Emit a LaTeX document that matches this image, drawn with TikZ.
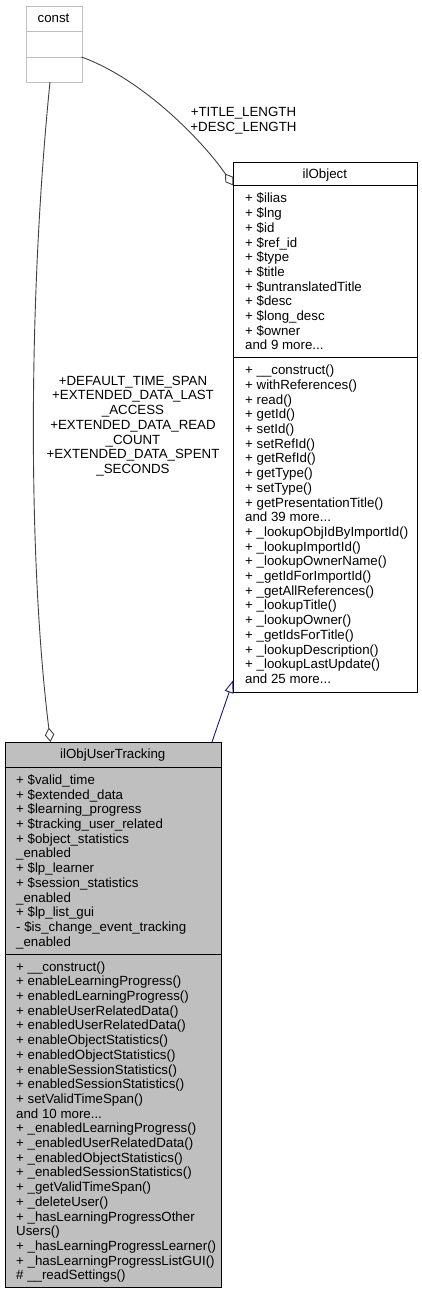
\documentclass[tikz,border=0pt]{standalone}
\usepackage{fontspec}
\setmainfont{Liberation Sans}
\usetikzlibrary{arrows.meta}
\definecolor{grayfill}{HTML}{BFBFBF}
\definecolor{edgegray}{HTML}{404040}
\definecolor{navyedge}{HTML}{191970}
\newcommand\threedotsx{...}
\begin{document}
\begin{tikzpicture}[x=1pt,y=-1pt,
  every node/.style={font=\fontsize{13.3}{14.7}\selectfont, inner sep=0pt, text=black},
  lbl/.style={anchor=base west},
  ttl/.style={anchor=base},
  classbox/.style={draw=black, line width=1pt, anchor=north west, minimum width=#1},
  sepline/.style={draw=black, line width=1pt},
  elabel/.style={align=center},
  usageedge/.style={draw=edgegray, line width=0.9pt, -{Diamond[open, length=14.5pt, width=9.5pt]}},
  inheritedge/.style={draw=navyedge, line width=0.9pt, -{Triangle[open, length=13pt, width=9pt]}}
]
\useasboundingbox (0,0) rectangle (422,1293);

% ---------- const ----------
\node[classbox=56pt, draw=grayfill, minimum height=76.5pt] (const) at (25.5,5.5) {};
\draw[draw=grayfill, line width=1pt] (25.5,31.5) -- (81.5,31.5);
\draw[draw=grayfill, line width=1pt] (25.5,57) -- (81.5,57);
\node[ttl] (consttitle) at (53.5,22) {const};

% ---------- ilObject ----------
\node[classbox=183.2pt, fill=white, minimum height=530pt] (ilobject) at (233.3,161.5) {};
\draw[sepline] (233.3,185.8) -- (416.5,185.8);
\draw[sepline] (233.3,357.6) -- (416.5,357.6);
\node[ttl] (ilobjecttitle) at (324.9,178) {ilObject};
\foreach \t [count=\i from 0] in {+ \$ilias, + \$lng, + \$id, + \$ref\_id, + \$type, + \$title, + \$untranslatedTitle, + \$desc, + \$long\_desc, + \$owner, and 9 more\threedotsx}
  \node[lbl] (oa\i) at (245,{202.9+\i*14.7}) {\t};
\foreach \t [count=\i from 0] in {+ \_\_construct(), + withReferences(), + read(), + getId(), + setId(), + setRefId(), + getRefId(), + getType(), + setType(), + getPresentationTitle(), and 39 more\threedotsx, + \_lookupObjIdByImportId(), + \_lookupImportId(), + \_lookupOwnerName(), + \_getIdForImportId(), + \_getAllReferences(), + \_lookupTitle(), + \_lookupOwner(), + \_getIdsForTitle(), + \_lookupDescription(), + \_lookupLastUpdate(), and 25 more\threedotsx}
  \node[lbl] (om\i) at (245,{374.7+\i*14.7}) {\t};

% ---------- ilObjUserTracking ----------
\node[classbox=216.5pt, fill=grayfill, minimum height=545pt] (tracking) at (4.5,742) {};
\draw[sepline] (4.5,767.3) -- (221,767.3);
\draw[sepline] (4.5,954) -- (221,954);
\node[ttl] (trackingtitle) at (112.8,758.5) {ilObjUserTracking};
\foreach \t [count=\i from 0] in {+ \$valid\_time, + \$extended\_data, + \$learning\_progress, + \$tracking\_user\_related, + \$object\_statistics, \_enabled, + \$lp\_learner, + \$session\_statistics, \_enabled, + \$lp\_list\_gui, - \$is\_change\_event\_tracking, \_enabled}
  \node[lbl] (ta\i) at (16,{784.4+\i*14.7}) {\t};
\foreach \t [count=\i from 0] in {+ \_\_construct(), + enableLearningProgress(), + enabledLearningProgress(), + enableUserRelatedData(), + enabledUserRelatedData(), + enableObjectStatistics(), + enabledObjectStatistics(), + enableSessionStatistics(), + enabledSessionStatistics(), + setValidTimeSpan(), and 10 more\threedotsx, + \_enabledLearningProgress(), + \_enabledUserRelatedData(), + \_enabledObjectStatistics(), + \_enabledSessionStatistics(), + \_getValidTimeSpan(), + \_deleteUser(), + \_hasLearningProgressOther, Users(), + \_hasLearningProgressLearner(), + \_hasLearningProgressListGUI(), \# \_\_readSettings()}
  \node[lbl] (tm\i) at (16,{971.1+\i*14.7}) {\t};

% ---------- connectors ----------
\coordinate (constright) at (81.5,57);
\coordinate (constbottom) at (50,82);
\coordinate (objdiamond) at (233.3,185.5);
\coordinate (trackdiamond) at (50.5,742);
\coordinate (tracktop) at (212,742);
\coordinate (objtip) at (233.3,680);

\draw[usageedge] (constright) .. controls (145,80) and (205,144) .. (objdiamond);
\draw[usageedge] (constbottom) .. controls (28,300) and (28,560) .. (trackdiamond);
\draw[inheritedge] (tracktop) -- (objtip);

\node[elabel] (lbltitle) at (243.5,121) {+TITLE\_LENGTH\\+DESC\_LENGTH};
\node[elabel] (lblconst) at (133,426) {+DEFAULT\_TIME\_SPAN\\+EXTENDED\_DATA\_LAST\\\_ACCESS\\+EXTENDED\_DATA\_READ\\\_COUNT\\+EXTENDED\_DATA\_SPENT\\\_SECONDS};
\end{tikzpicture}
\end{document}
